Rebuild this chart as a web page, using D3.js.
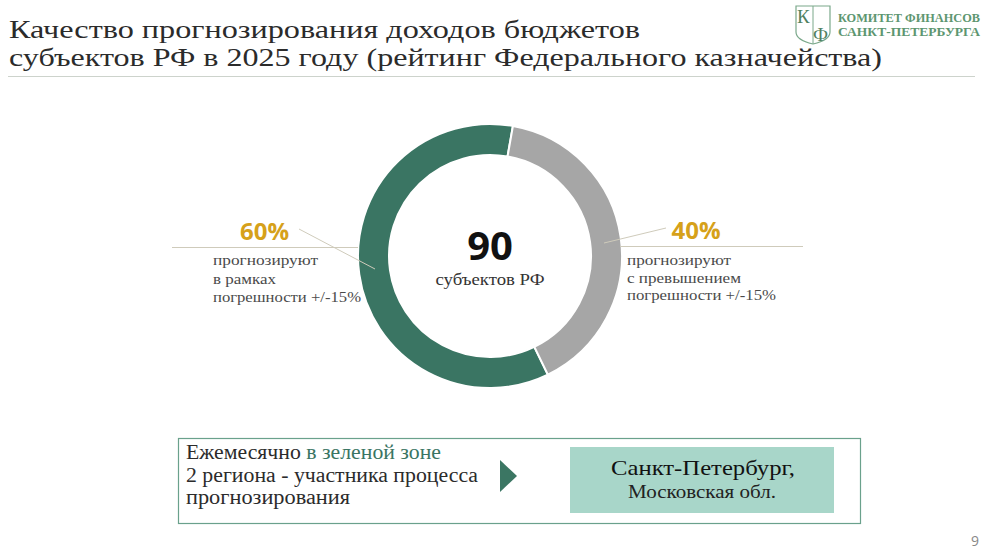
<!DOCTYPE html>
<html><head><meta charset="utf-8">
<script src="https://cdn.jsdelivr.net/npm/d3@7"></script>
<style>
html,body{margin:0;padding:0;background:#fff;}
svg{display:block;}
</style></head>
<body>
<svg id="c" width="990" height="557"></svg>
<script>
const titleLines = ["Качество прогнозирования доходов бюджетов", "субъектов РФ в 2025 году (рейтинг Федерального казначейства)"];
const categories = ["в рамках погрешности", "с превышением погрешности"];
const values = [60, 40];
const percentLabels = ["60%", "40%"];
const leftText = ["прогнозируют", "в рамках", "погрешности +/-15%"];
const rightText = ["прогнозируют", "с превышением", "погрешности +/-15%"];
const centerValue = "90";
const centerLabel = "субъектов РФ";
const logoLines = ["КОМИТЕТ ФИНАНСОВ", "САНКТ-ПЕТЕРБУРГА"];
const boxLines = ["2 региона - участника процесса", "прогнозирования"];
const leaders = ["Санкт-Петербург,", "Московская обл."];
const pageNum = "9";

const colors = ["#3a7563", "#a6a6a6"];
const svg = d3.select("#c");
const serif = "'Liberation Serif', serif";
const sans = "'Open Sans', sans-serif";

function fit(sel, w) {
  sel.each(function() {
    const n = this.getComputedTextLength();
    if (Math.abs(n - w) > 1) d3.select(this).attr("textLength", w).attr("lengthAdjust", "spacingAndGlyphs");
  });
}

// Title
const titleW = [631, 873];
svg.selectAll("text.title").data(titleLines).join("text").attr("class", "title")
  .attr("x", 9).attr("y", (d,i) => 38 + i*27.5)
  .attr("font-family", serif).attr("font-size", 25).attr("fill", "#2b2b2b")
  .text(d => d)
  .each(function(d,i){ fit(d3.select(this), titleW[i]); });
svg.append("line").attr("x1", 8).attr("x2", 975).attr("y1", 76.5).attr("y2", 76.5)
  .attr("stroke", "#cdd3cc").attr("stroke-width", 1);

// Logo
const lg = svg.append("g").attr("transform", "translate(794,4)");
lg.append("path").attr("d", "M2,2 L36,2 L36,28 Q36,36 19,40 Q2,36 2,28 Z")
  .attr("fill", "none").attr("stroke", "#7aa88a").attr("stroke-width", 1.2);
lg.append("line").attr("x1", 19).attr("x2", 19).attr("y1", 2).attr("y2", 40).attr("stroke", "#7aa88a").attr("stroke-width", 1);
lg.append("text").attr("x", 3).attr("y", 19).attr("font-family", serif).attr("font-size", 19).attr("fill", "#4f7f5f").text("К");
lg.append("text").attr("x", 19).attr("y", 37).attr("font-family", serif).attr("font-size", 19).attr("fill", "#4f7f5f").text("Ф");
svg.selectAll("text.logo").data(logoLines).join("text").attr("class", "logo")
  .attr("x", 838).attr("y", (d,i) => 22 + i*14)
  .attr("font-family", serif).attr("font-weight", "bold").attr("font-size", 12.5)
  .attr("fill", "#5d9670").text(d => d)
  .each(function(){ fit(d3.select(this), 142); });

// Donut
const cx = 490, cy = 256, rOuter = 132, rInner = 101;
const start = (10 - 216) * Math.PI / 180;
const pie = d3.pie().sort(null).startAngle(start).endAngle(start + 2*Math.PI);
const arcs = pie(values);
const arc = d3.arc().innerRadius(rInner).outerRadius(rOuter);
const g = svg.append("g").attr("transform", `translate(${cx},${cy})`);
g.selectAll("path").data(arcs).join("path")
  .attr("d", arc).attr("fill", (d,i) => colors[i])
  .attr("stroke", "#fff").attr("stroke-width", 2);

g.append("text").attr("x", 0).attr("y", 4).attr("text-anchor", "middle")
  .attr("font-family", sans).attr("font-weight", "bold").attr("font-size", 40).attr("fill", "#111")
  .text(centerValue);
g.append("text").attr("x", 0).attr("y", 29).attr("text-anchor", "middle")
  .attr("font-family", serif).attr("font-size", 16).attr("fill", "#333")
  .text(centerLabel)
  .call(s => fit(s, 109));

// Labels
const lineCol = "#cfcbbb";
svg.append("line").attr("x1", 172).attr("x2", 358).attr("y1", 247.5).attr("y2", 247.5).attr("stroke", lineCol);
svg.append("line").attr("x1", 299).attr("y1", 229).attr("x2", 375).attr("y2", 269).attr("stroke", lineCol);
svg.append("text").attr("x", 264.5).attr("y", 240).attr("text-anchor", "middle")
  .attr("font-family", sans).attr("font-weight", "bold").attr("font-size", 24).attr("fill", "#d6a11a")
  .text(percentLabels[0]);
const leftW = [105, 63, 148];
svg.selectAll("text.lt").data(leftText).join("text").attr("class", "lt")
  .attr("x", 213).attr("y", (d,i) => 265 + i*18.5)
  .attr("font-family", serif).attr("font-size", 15).attr("fill", "#4a4a4a").text(d => d)
  .each(function(d,i){ fit(d3.select(this), leftW[i]); });
svg.append("line").attr("x1", 620).attr("x2", 803).attr("y1", 246.5).attr("y2", 246.5).attr("stroke", lineCol);
svg.append("line").attr("x1", 604).attr("y1", 243).attr("x2", 666).attr("y2", 228).attr("stroke", lineCol);
svg.append("text").attr("x", 696).attr("y", 239).attr("text-anchor", "middle")
  .attr("font-family", sans).attr("font-weight", "bold").attr("font-size", 24).attr("fill", "#d6a11a")
  .text(percentLabels[1]);
const rightW = [104, 114, 149];
svg.selectAll("text.rt").data(rightText).join("text").attr("class", "rt")
  .attr("x", 627).attr("y", (d,i) => 265 + i*17.5)
  .attr("font-family", serif).attr("font-size", 15).attr("fill", "#4a4a4a").text(d => d)
  .each(function(d,i){ fit(d3.select(this), rightW[i]); });

// Bottom box
svg.append("rect").attr("x", 178.5).attr("y", 438.5).attr("width", 682).attr("height", 85)
  .attr("fill", "#fff").attr("stroke", "#6aa18c").attr("stroke-width", 1.2);
const bt = svg.append("text").attr("x", 186).attr("y", 459)
  .attr("font-family", serif).attr("font-size", 20).attr("fill", "#2b2b2b");
bt.append("tspan").text("Ежемесячно ");
bt.append("tspan").attr("fill", "#3a7563").text("в зеленой зоне");
fit(bt, 255);
const boxW = [292, 164];
svg.selectAll("text.bl").data(boxLines).join("text").attr("class", "bl")
  .attr("x", 186).attr("y", (d,i) => 482 + i*22)
  .attr("font-family", serif).attr("font-size", 20).attr("fill", "#2b2b2b").text(d => d)
  .each(function(d,i){ fit(d3.select(this), boxW[i]); });
svg.append("path").attr("d", "M500,460 L517,476 L500,492 Z").attr("fill", "#3b7663");
svg.append("rect").attr("x", 570).attr("y", 447).attr("width", 264).attr("height", 66).attr("fill", "#a8d6c9");
svg.append("text").attr("x", 703).attr("y", 475).attr("text-anchor", "middle")
  .attr("font-family", serif).attr("font-size", 22).attr("fill", "#111").text(leaders[0])
  .call(s => fit(s, 184));
svg.append("text").attr("x", 702).attr("y", 498).attr("text-anchor", "middle")
  .attr("font-family", serif).attr("font-size", 18).attr("fill", "#222").text(leaders[1])
  .call(s => fit(s, 148));

svg.append("text").attr("x", 975).attr("y", 546).attr("text-anchor", "middle")
  .attr("font-family", sans).attr("font-size", 14).attr("fill", "#888").text(pageNum);
</script>
</body></html>
